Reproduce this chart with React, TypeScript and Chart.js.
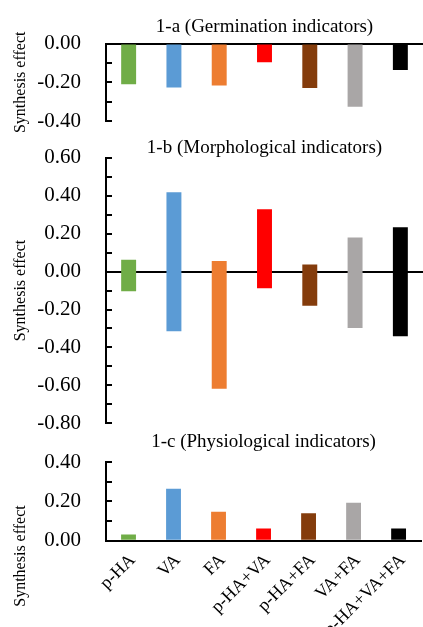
import React, { useEffect, useRef } from "react";
import { Chart, registerables } from "chart.js";

Chart.register(...registerables);

const categories = ["p-HA", "VA", "FA", "p-HA+VA", "p-HA+FA", "VA+FA", "p-HA+VA+FA"];
const barColors = ["#70AD47", "#5B9BD5", "#ED7D31", "#FF0000", "#843C0C", "#A9A6A6", "#000000"];

const germinationValues = [-0.21, -0.227, -0.217, -0.097, -0.23, -0.326, -0.137];
const morphologicalLow = [-0.104, -0.315, -0.618, -0.088, -0.18, -0.298, -0.341];
const morphologicalHigh = [0.062, 0.418, 0.056, 0.329, 0.038, 0.18, 0.234];
const physiologicalValues = [0.031, 0.264, 0.147, 0.062, 0.14, 0.193, 0.062];

const yRangeA = [-0.4, 0];
const yRangeB = [-0.8, 0.6];
const yRangeC = [0, 0.4];

const titles = [
  "1-a (Germination indicators)",
  "1-b (Morphological indicators)",
  "1-c (Physiological indicators)",
];
const yTitle = "Synthesis effect";

const SERIF = "'Liberation Serif', 'Times New Roman', Times, serif";

const sideTitlePlugin = {
  id: "sideTitle",
  afterDraw(chart: any, _args: any, opts: any) {
    if (!opts || !opts.text) return;
    const ctx = chart.ctx;
    ctx.save();
    ctx.translate(opts.x, opts.y);
    ctx.rotate(-Math.PI / 2);
    ctx.font = `${opts.size}px ${SERIF}`;
    ctx.fillStyle = "#000";
    ctx.textAlign = "center";
    ctx.textBaseline = "middle";
    ctx.fillText(opts.text, 0, 0);
    ctx.restore();
  },
};

function tickLabel(v: number) {
  const r = Math.round(v * 10);
  if (r % 2 !== 0) return "";
  return (r / 10).toFixed(2);
}

function makeYScale(range: number[], showTitle: boolean) {
  return {
    min: range[0],
    max: range[1],
    afterFit(axis: any) {
      axis.width = 106;
    },
    ticks: {
      stepSize: 0.1,
      autoSkip: false,
      padding: 31,
      color: "#000",
      font: { size: 21, family: SERIF },
      callback: (v: any) => tickLabel(Number(v)),
    },
    grid: {
      drawOnChartArea: true,
      drawTicks: true,
      tickLength: -6,
      tickColor: "#000",
      tickWidth: 2,
      lineWidth: 2,
      color: (c: any) =>
        c.tick && Math.abs(c.tick.value) < 1e-9 ? "#000" : "rgba(0,0,0,0)",
    },
    border: { display: true, color: "#000", width: 2 },
    title: {
      display: showTitle,
      text: yTitle,
      color: "#000",
      font: { size: 16, family: SERIF },
      padding: { top: 11, bottom: 0 },
    },
  };
}

function makeConfig(kind: number): any {
  let data: any[];
  let range: number[];
  let padding: any;
  let titlePad: any;
  if (kind === 0) {
    data = germinationValues;
    range = yRangeA;
    padding = { top: 16, bottom: 506, left: 0, right: 0 };
    titlePad = { top: 0, bottom: 7 };
  } else if (kind === 1) {
    data = morphologicalLow.map((lo, i) => [lo, morphologicalHigh[i]]);
    range = yRangeB;
    padding = { top: 138.8, bottom: 203.7, left: 0, right: 0 };
    titlePad = { top: 0, bottom: 0 };
  } else {
    data = physiologicalValues;
    range = yRangeC;
    padding = { top: 432.5, bottom: 0, left: 0, right: 0 };
    titlePad = { top: 0, bottom: 10.5 };
  }
  return {
    type: "bar",
    data: {
      labels: categories,
      datasets: [
        {
          data,
          backgroundColor: barColors,
          borderWidth: 0,
          barPercentage: 0.33,
          categoryPercentage: 1,
        },
      ],
    },
    options: {
      animation: false,
      responsive: false,
      maintainAspectRatio: false,
      layout: { padding },
      plugins: {
        legend: { display: false },
        tooltip: { enabled: false },
        title: {
          display: true,
          text: titles[kind],
          fullSize: false,
          color: "#000",
          font: { size: 19, family: SERIF, weight: "normal", lineHeight: 1 },
          padding: titlePad,
        },
        sideTitle:
          kind === 2
            ? { text: yTitle, x: 21, y: 556, size: 16 }
            : { text: "" },
      },
      scales: {
        x: {
          display: kind === 2,
          afterFit(axis: any) {
            if (kind === 2) axis.height = 86.3;
          },
          grid: { display: false, drawTicks: false },
          border: { display: true, color: "#000", width: 2 },
          ticks: {
            autoSkip: false,
            minRotation: 45,
            maxRotation: 45,
            padding: 9,
            labelOffset: 4,
            color: "#000",
            font: { size: 18, family: SERIF },
          },
        },
        y: makeYScale(range, kind !== 2),
      },
    },
    plugins: [sideTitlePlugin],
  };
}

function Panel({ kind }: { kind: number }) {
  const ref = useRef<HTMLCanvasElement | null>(null);
  useEffect(() => {
    if (!ref.current) return;
    const chart = new Chart(ref.current, makeConfig(kind));
    return () => chart.destroy();
  }, [kind]);
  return (
    <canvas
      ref={ref}
      width={423}
      height={627}
      style={{ position: "absolute", left: 0, top: 0, width: 423, height: 627 }}
    />
  );
}

export default function App() {
  return (
    <div
      style={{
        position: "absolute",
        left: 0,
        top: 0,
        width: 423,
        height: 627,
        overflow: "hidden",
        background: "#fff",
      }}
    >
      <Panel kind={0} />
      <Panel kind={1} />
      <Panel kind={2} />
    </div>
  );
}
